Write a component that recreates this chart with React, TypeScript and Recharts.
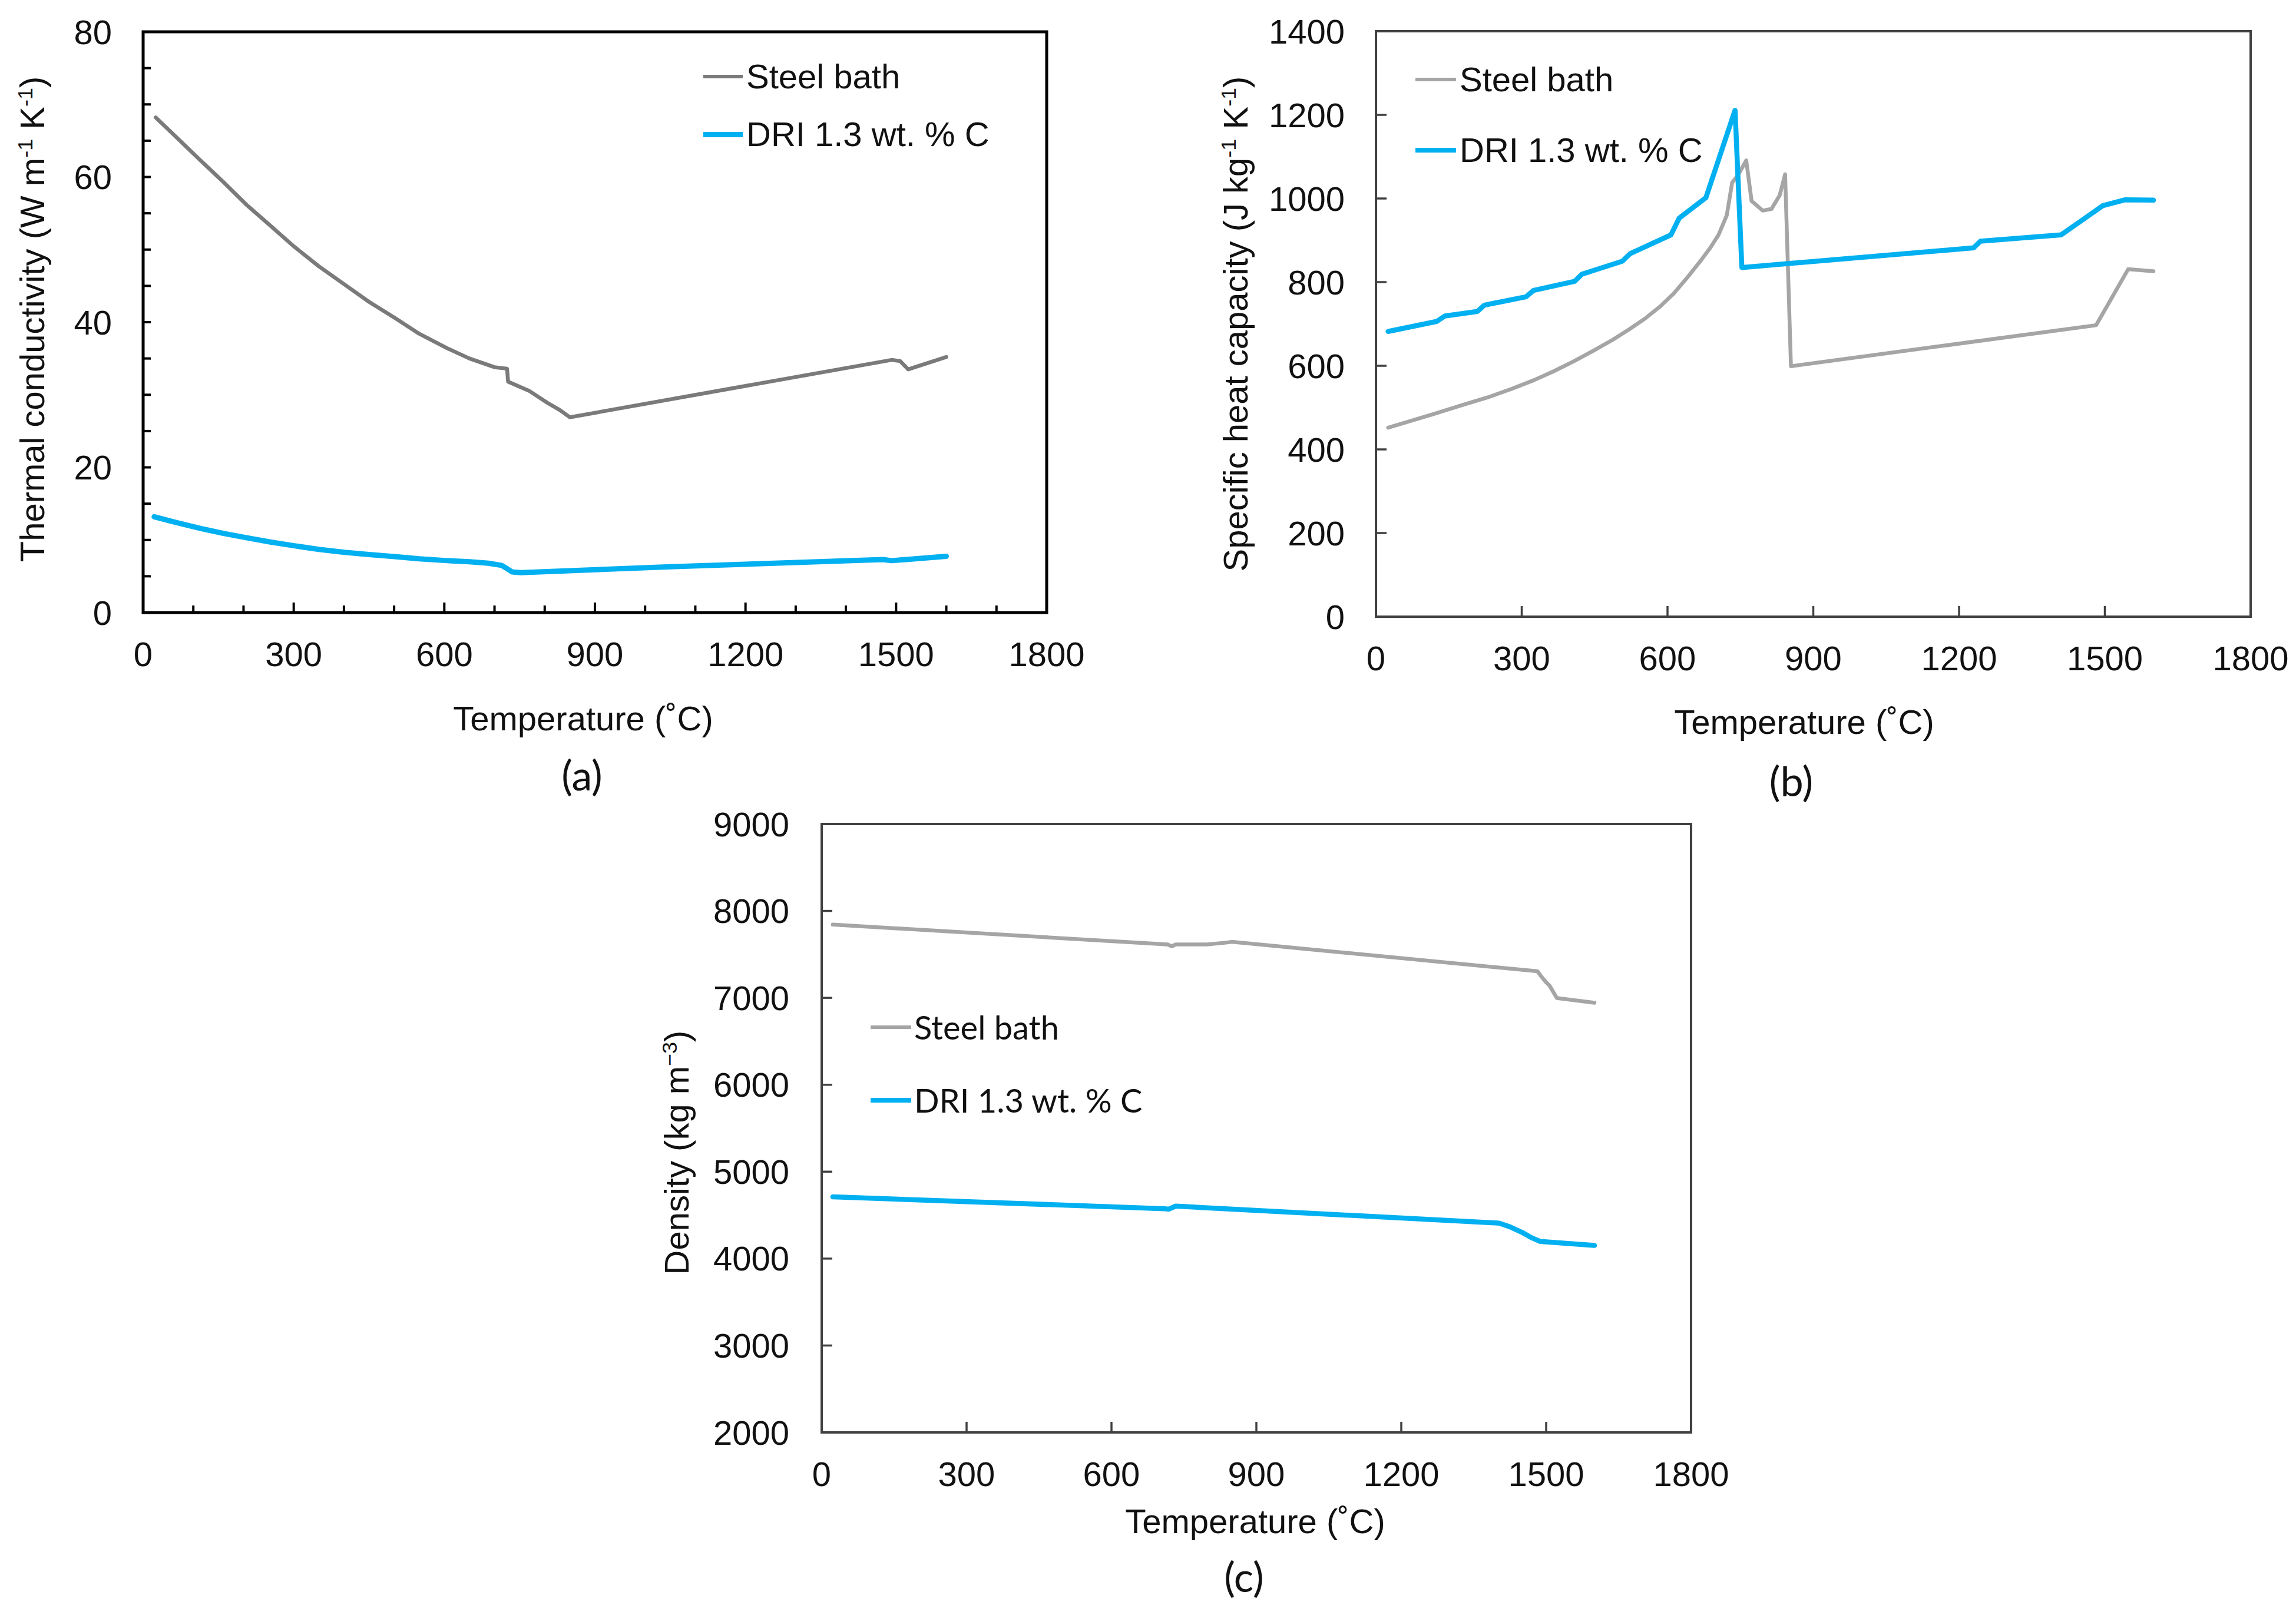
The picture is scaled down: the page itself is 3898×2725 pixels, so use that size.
import React from 'react';
import { LineChart, Line, XAxis, YAxis, ReferenceArea } from 'recharts';

// ---------- data ----------
const tempTicksMinor = [0, 100, 200, 300, 400, 500, 600, 700, 800, 900, 1000, 1100, 1200, 1300, 1400, 1500, 1600, 1700, 1800];
const tempTicksMajor = [0, 300, 600, 900, 1200, 1500, 1800];
const kTicks = [0, 5, 10, 15, 20, 25, 30, 35, 40, 45, 50, 55, 60, 65, 70, 75, 80];
const cpTicks = [0, 200, 400, 600, 800, 1000, 1200, 1400];
const rhoTicks = [2000, 3000, 4000, 5000, 6000, 7000, 8000, 9000];

const seriesNames = ['Steel bath', 'DRI 1.3 wt. % C'];

// (a) thermal conductivity
const kSteelT = [25, 60, 114, 160, 207, 255, 301, 350, 401, 450, 501, 550, 606, 650, 700, 725, 727, 770, 805, 830, 850, 1491, 1508, 1524, 1600];
const kSteelV = [68.2, 65.9, 62.3, 59.3, 56.1, 53.2, 50.4, 47.7, 45.2, 42.8, 40.6, 38.4, 36.4, 35.0, 33.8, 33.6, 31.8, 30.5, 28.9, 27.9, 26.9, 34.8, 34.65, 33.5, 35.2];
const kDriT = [22, 60, 114, 160, 207, 255, 301, 350, 401, 450, 501, 550, 606, 650, 688, 714, 725, 735, 752, 1050, 1474, 1491, 1520, 1600];
const kDriV = [13.2, 12.5, 11.6, 10.9, 10.3, 9.7, 9.2, 8.7, 8.3, 8.0, 7.7, 7.4, 7.15, 7.0, 6.8, 6.5, 6.05, 5.6, 5.5, 6.3, 7.3, 7.15, 7.3, 7.75];

// (b) specific heat capacity
const cpSteelT = [25, 120, 180, 234, 280, 326, 366, 406, 446, 487, 521, 555, 585, 613, 640, 670, 688, 705, 722, 733, 745, 762, 773, 796, 814, 831, 842, 854, 1482, 1548, 1600];
const cpSteelV = [452, 485, 507, 526, 545, 566, 587, 610, 635, 662, 687, 714, 742, 773, 810, 854, 882, 913, 960, 1038, 1056, 1091, 994, 971, 975, 1008, 1058, 599, 697, 831, 826];
const cpDriT = [25, 125, 142, 209, 223, 309, 324, 409, 424, 507, 523, 607, 624, 679, 739, 753, 1230, 1244, 1410, 1496, 1542, 1600];
const cpDriV = [682, 706, 719, 730, 745, 765, 780, 802, 819, 850, 868, 913, 953, 1002, 1211, 835, 882, 898, 913, 983, 997, 996];

// (c) density
const rhoSteelT = [23, 716, 725, 733, 797, 832, 849, 1482, 1490, 1499, 1507, 1522, 1600];
const rhoSteelV = [7843, 7614, 7592, 7614, 7614, 7632, 7644, 7306, 7245, 7185, 7140, 6998, 6944];
const rhoDriT = [23, 710, 718, 733, 751, 1403, 1426, 1450, 1469, 1488, 1600];
const rhoDriV = [4710, 4574, 4568, 4604, 4598, 4408, 4363, 4302, 4242, 4197, 4151];

// ---------- styles ----------
const FONT = '"Liberation Sans", Arial, sans-serif';
const FONT2 = 'Lato, "Open Sans", sans-serif';
const BLUE = '#00B0F0';
const GRAY_DARK = '#7A7A7A';
const GRAY = '#A5A5A5';

const zip = (ts: number[], vs: number[]) => ts.map((t, i) => ({ t, v: vs[i] }));

type TickCfg = {
  majorEvery: number;
  base: number;
  majLen: number;
  minLen: number;
  stroke: string;
  sw: number;
};

const makeXTick = (cfg: TickCfg) => (props: any) => {
  const { x, y, payload } = props;
  const v = payload.value;
  const major = (v - cfg.base) % cfg.majorEvery === 0;
  return (
    <g>
      <line x1={x} x2={x} y1={y} y2={y - (major ? cfg.majLen : cfg.minLen)} stroke={cfg.stroke} strokeWidth={cfg.sw} />
      {major && (
        <text x={x} y={y + 70} textAnchor="middle" dominantBaseline="central" fontFamily={FONT} fontSize={58} fill="#111">
          {v}
        </text>
      )}
    </g>
  );
};

const makeYTick = (cfg: TickCfg, gap: number) => (props: any) => {
  const { x, y, payload } = props;
  const v = payload.value;
  const major = (v - cfg.base) % cfg.majorEvery === 0;
  return (
    <g>
      <line x1={x} x2={x + (major ? cfg.majLen : cfg.minLen)} y1={y} y2={y} stroke={cfg.stroke} strokeWidth={cfg.sw} />
      {major && (
        <text x={x - gap} y={y} textAnchor="end" dominantBaseline="central" fontFamily={FONT} fontSize={58} fill="#111">
          {v}
        </text>
      )}
    </g>
  );
};

type Series = { name: string; data: { t: number; v: number }[]; color: string; width: number };

type PanelProps = {
  left: number;
  top: number;
  width: number;
  height: number;
  margin: { top: number; right: number; bottom: number; left: number };
  xTicks: number[];
  xCfg: TickCfg;
  yDomain: [number, number];
  yTicks: number[];
  yCfg: TickCfg;
  yGap: number;
  axisColor: string;
  axisWidth: number;
  series: Series[];
};

function Panel(p: PanelProps) {
  return (
    <div style={{ position: 'absolute', left: p.left, top: p.top, width: p.width, height: p.height }}>
      <LineChart width={p.width} height={p.height} margin={p.margin}>
        <XAxis
          type="number"
          dataKey="t"
          domain={[0, 1800]}
          ticks={p.xTicks}
          interval={0}
          tickSize={0}
          tickMargin={0}
          axisLine={false}
          tickLine={false}
          height={100}
          allowDataOverflow
          tick={makeXTick(p.xCfg)}
        />
        <YAxis
          type="number"
          domain={p.yDomain}
          ticks={p.yTicks}
          interval={0}
          tickSize={0}
          tickMargin={0}
          axisLine={false}
          tickLine={false}
          width={100}
          allowDataOverflow
          tick={makeYTick(p.yCfg, p.yGap)}
        />
        <ReferenceArea
          x1={0}
          x2={1800}
          y1={p.yDomain[0]}
          y2={p.yDomain[1]}
          fill="none"
          fillOpacity={0}
          stroke={p.axisColor}
          strokeWidth={p.axisWidth}
          ifOverflow="visible"
        />
        {p.series.map((s) => (
          <Line
            key={s.name}
            data={s.data}
            dataKey="v"
            name={s.name}
            type="linear"
            stroke={s.color}
            strokeWidth={s.width}
            strokeLinejoin="round"
            strokeLinecap="round"
            dot={false}
            activeDot={false}
            isAnimationActive={false}
          />
        ))}
      </LineChart>
    </div>
  );
}

const Sup = ({ children }: { children: React.ReactNode }) => (
  <span style={{ fontSize: '0.62em', position: 'relative', top: '-0.55em' }}>{children}</span>
);

const centerText = (cx: number, cy: number, rotate = false): React.CSSProperties => ({
  position: 'absolute',
  left: cx,
  top: cy,
  transform: rotate ? 'translate(-50%,-50%) rotate(-90deg)' : 'translate(-50%,-50%)',
  whiteSpace: 'nowrap',
  lineHeight: 1,
  color: '#111',
});

function LegendRows({ x, y1, y2, lineLen, gap, colors, widths, font, size }: any) {
  return (
    <>
      {[y1, y2].map((y: number, i: number) => (
        <React.Fragment key={i}>
          <div
            style={{
              position: 'absolute',
              left: x,
              top: y - widths[i] / 2,
              width: lineLen,
              height: widths[i],
              background: colors[i],
            }}
          />
          <div
            style={{
              position: 'absolute',
              left: x + lineLen + gap,
              top: y,
              transform: 'translateY(-50%)',
              whiteSpace: 'nowrap',
              lineHeight: 1,
              fontFamily: font,
              fontSize: size,
              color: '#111',
            }}
          >
            {seriesNames[i]}
          </div>
        </React.Fragment>
      ))}
    </>
  );
}

export default function App() {
  const aSeries: Series[] = [
    { name: seriesNames[0], data: zip(kSteelT, kSteelV), color: GRAY_DARK, width: 6.5 },
    { name: seriesNames[1], data: zip(kDriT, kDriV), color: BLUE, width: 9 },
  ];
  const bSeries: Series[] = [
    { name: seriesNames[0], data: zip(cpSteelT, cpSteelV), color: GRAY, width: 6.5 },
    { name: seriesNames[1], data: zip(cpDriT, cpDriV), color: BLUE, width: 8.5 },
  ];
  const cSeries: Series[] = [
    { name: seriesNames[0], data: zip(rhoSteelT, rhoSteelV), color: GRAY, width: 6.5 },
    { name: seriesNames[1], data: zip(rhoDriT, rhoDriV), color: BLUE, width: 8.5 },
  ];

  const DARK = '#404040';

  return (
    <div style={{ position: 'absolute', left: 0, top: 0, width: 3898, height: 2725, background: '#fff', overflow: 'hidden', fontFamily: FONT }}>
      {/* (a) */}
      <Panel
        left={0}
        top={0}
        width={1900}
        height={1350}
        margin={{ top: 54, right: 123, bottom: 210, left: 143 }}
        xTicks={tempTicksMinor}
        xCfg={{ majorEvery: 300, base: 0, majLen: 17, minLen: 12, stroke: '#000', sw: 4 }}
        yDomain={[0, 80]}
        yTicks={kTicks}
        yCfg={{ majorEvery: 20, base: 0, majLen: 13, minLen: 13, stroke: '#000', sw: 4 }}
        yGap={53}
        axisColor="#000"
        axisWidth={5}
        series={aSeries}
      />
      {/* (b) */}
      <Panel
        left={1950}
        top={0}
        width={1948}
        height={1350}
        margin={{ top: 53, right: 77, bottom: 203, left: 286 }}
        xTicks={tempTicksMajor}
        xCfg={{ majorEvery: 300, base: 0, majLen: 18, minLen: 18, stroke: DARK, sw: 3.5 }}
        yDomain={[0, 1400]}
        yTicks={cpTicks}
        yCfg={{ majorEvery: 200, base: 0, majLen: 18, minLen: 18, stroke: DARK, sw: 3.5 }}
        yGap={53}
        axisColor={DARK}
        axisWidth={4}
        series={bSeries}
      />
      {/* (c) */}
      <Panel
        left={1000}
        top={1350}
        width={1950}
        height={1375}
        margin={{ top: 49, right: 79, bottom: 193, left: 295 }}
        xTicks={tempTicksMajor}
        xCfg={{ majorEvery: 300, base: 0, majLen: 18, minLen: 18, stroke: DARK, sw: 3.5 }}
        yDomain={[2000, 9000]}
        yTicks={rhoTicks}
        yCfg={{ majorEvery: 1000, base: 2000, majLen: 18, minLen: 18, stroke: DARK, sw: 3.5 }}
        yGap={55}
        axisColor={DARK}
        axisWidth={4}
        series={cSeries}
      />

      {/* axis titles */}
      <div style={{ ...centerText(990, 1220), fontSize: 58 }}>Temperature (˚C)</div>
      <div style={{ ...centerText(55, 542, true), fontSize: 58 }}>
        Thermal conductivity (W m<Sup>-1</Sup> K<Sup>-1</Sup>)
      </div>
      <div style={{ ...centerText(3063, 1226), fontSize: 58 }}>Temperature (˚C)</div>
      <div style={{ ...centerText(2098, 550, true), fontSize: 58 }}>
        Specific heat capacity (J kg<Sup>-1</Sup> K<Sup>-1</Sup>)
      </div>
      <div style={{ ...centerText(2131, 2583), fontSize: 58 }}>Temperature (˚C)</div>
      <div style={{ ...centerText(1149, 1957, true), fontSize: 58 }}>
        Density (kg m<Sup>−3</Sup>)
      </div>

      {/* panel labels */}
      <div style={{ ...centerText(988, 1315), fontSize: 70, fontFamily: FONT2 }}>(a)</div>
      <div style={{ ...centerText(3041, 1325), fontSize: 70, fontFamily: FONT2 }}>(b)</div>
      <div style={{ ...centerText(2112, 2676), fontSize: 70, fontFamily: FONT2 }}>(c)</div>

      {/* legends */}
      <LegendRows x={1194} y1={130} y2={228} lineLen={67} gap={6} colors={[GRAY_DARK, BLUE]} widths={[6.5, 9]} font={FONT} size={58} />
      <LegendRows x={2403} y1={135} y2={255} lineLen={69} gap={6} colors={[GRAY, BLUE]} widths={[6.5, 8.5]} font={FONT} size={58} />
      <LegendRows x={1478} y1={1744} y2={1868} lineLen={69} gap={5} colors={[GRAY, BLUE]} widths={[6.5, 8.5]} font={FONT2} size={56} />
    </div>
  );
}
